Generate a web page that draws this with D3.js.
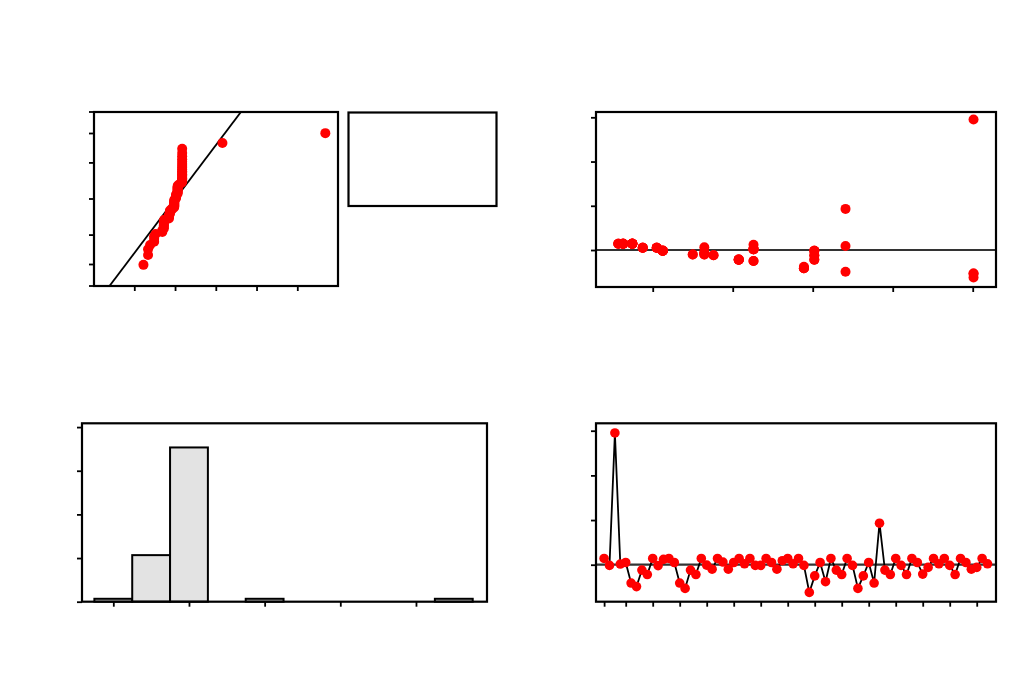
<!DOCTYPE html>
<html><head><meta charset="utf-8">
<script src="https://cdn.jsdelivr.net/npm/d3@7"></script>
<style>body{margin:0;background:#fff}svg{display:block}</style>
</head><body><svg id="c" width="1019" height="680"></svg>
<script>
// ---- data ----
const residuals = [0.14,-0.015,2.95,0.015,0.05,-0.41,-0.49,-0.12,-0.22,
  0.14,-0.02,0.12,0.14,0.05,-0.41,-0.53,-0.12,-0.22,
  0.14,-0.01,-0.10,0.14,0.06,-0.10,0.05,0.14,0.02,
  0.14,-0.015,-0.015,0.14,0.05,-0.10,0.09,0.14,0.02,
  0.14,-0.015,-0.62,-0.25,0.05,-0.38,0.14,-0.12,-0.22,
  0.14,-0.015,-0.53,-0.25,0.05,-0.41,0.93,-0.12,-0.22,
  0.14,-0.015,-0.22,0.14,0.05,-0.21,-0.06,0.14,0.02,
  0.14,-0.015,-0.22,0.14,0.05,-0.10,-0.06,0.14,0.02];
const fits = [0.745,1.125,5.01,2.26,1.05,2.89,3.41,1.76,2.075,
  0.745,1.125,2.26,0.745,1.05,2.89,5.01,1.76,2.075,
  0.745,1.125,1.645,0.745,1.645,1.645,1.05,0.745,2.26,
  0.745,1.125,1.125,0.745,1.05,1.5,3.41,0.745,2.26,
  0.63,1.125,5.01,2.26,0.875,2.89,0.63,3.02,3.02,
  0.63,3.02,5.01,2.26,0.875,2.89,3.41,3.02,3.02,
  0.63,3.02,2.075,0.63,0.875,2.075,1.645,0.63,2.26,
  0.57,3.02,2.075,0.57,0.875,1.5,1.645,0.57,2.26];
const probTicks = [0.1,1,10,50,90,99,99.9];
const residTicks = [-0.8,0,0.8,1.6,2.4];
const residYTicks = [0,1,2,3];
const fitTicks = [1,2,3,4,5];
const countTicks = [0,15,30,45,60];
const orderTicks = [1,5,10,15,20,25,30,35,40,45,50,55,60,65,70];
const binEdges = [-1.0,-0.6,-0.2,0.2,0.6,1.0,1.4,1.8,2.2,2.6,3.0];

// ---- helpers ----
function invNorm(p){
  const a=[-3.969683028665376e+01,2.209460984245205e+02,-2.759285104469687e+02,1.383577518672690e+02,-3.066479806614716e+01,2.506628277459239e+00];
  const b=[-5.447609879822406e+01,1.615858368580409e+02,-1.556989798598866e+02,6.680131188771972e+01,-1.328068155288572e+01];
  const c=[-7.784894002430293e-03,-3.223964580411365e-01,-2.400758277161838e+00,-2.549732539343734e+00,4.374664141464968e+00,2.938163982698783e+00];
  const d=[7.784695709041462e-03,3.224671290700398e-01,2.445134137142996e+00,3.754408661907416e+00];
  const pl=0.02425, ph=1-pl; let q,r;
  if(p<pl){q=Math.sqrt(-2*Math.log(p));return (((((c[0]*q+c[1])*q+c[2])*q+c[3])*q+c[4])*q+c[5])/((((d[0]*q+d[1])*q+d[2])*q+d[3])*q+1);}
  if(p>ph){q=Math.sqrt(-2*Math.log(1-p));return -(((((c[0]*q+c[1])*q+c[2])*q+c[3])*q+c[4])*q+c[5])/((((d[0]*q+d[1])*q+d[2])*q+d[3])*q+1);}
  q=p-0.5;r=q*q;return (((((a[0]*r+a[1])*r+a[2])*r+a[3])*r+a[4])*r+a[5])*q/(((((b[0]*r+b[1])*r+b[2])*r+b[3])*r+b[4])*r+1);
}
const svg = d3.select("#c");
svg.append("rect").attr("width",1019).attr("height",680).attr("fill","#fff");
const RED="#ff0000";
const FW=2.2;
function frame(x0,y0,x1,y1,id){
  svg.append("clipPath").attr("id",id).append("rect").attr("x",x0).attr("y",y0).attr("width",x1-x0).attr("height",y1-y0);
}
function drawFrame(x0,y0,x1,y1){
  svg.append("rect").attr("x",x0).attr("y",y0).attr("width",x1-x0).attr("height",y1-y0)
    .attr("fill","none").attr("stroke","#000").attr("stroke-width",FW);
}
function axes(xs,ys,xt,yt,x0,y1){
  const gx=svg.append("g").attr("transform",`translate(0,${y1})`)
    .call(d3.axisBottom(xs).tickValues(xt).tickSize(5).tickFormat(""));
  const gy=svg.append("g").attr("transform",`translate(${x0},0)`)
    .call(d3.axisLeft(ys).tickValues(yt).tickSize(5).tickFormat(""));
  [gx,gy].forEach(g=>{g.select(".domain").remove();g.selectAll("line").attr("stroke","#000").attr("stroke-width",1.8);});
}
const n = residuals.length;
const mean = d3.mean(residuals), sd = d3.deviation(residuals);

// ---- Panel 1: normal probability plot ----
{
  const x0=94,x1=338,y0=112,y1=286;
  const xs=d3.scaleLinear().domain([-1.591,3.199]).range([x0,x1]);
  const zs=d3.scaleLinear().domain([-3.09,3.09]).range([y1,y0]);
  const ys=p=>zs(invNorm(p/100));
  frame(x0,y0,x1,y1,"cp1");
  const sorted=residuals.slice().sort(d3.ascending);
  const pts=sorted.map((v,i)=>({v,z:invNorm((i+1-0.3)/(n+0.4))}));
  const g=svg.append("g").attr("clip-path","url(#cp1)");
  g.append("line").attr("x1",xs(mean+sd*-3.2)).attr("y1",zs(-3.2))
    .attr("x2",xs(mean+sd*3.2)).attr("y2",zs(3.2)).attr("stroke","#000").attr("stroke-width",1.8);
  g.selectAll("circle").data(pts).join("circle").attr("cx",d=>xs(d.v)).attr("cy",d=>zs(d.z))
    .attr("r",5).attr("fill",RED);
  axes(xs,d3.scaleLinear().domain([0,1]).range([0,1]),residTicks,[],x0,y1);
  const gy=svg.append("g");
  gy.selectAll("line").data(probTicks).join("line").attr("x1",x0-5).attr("x2",x0)
    .attr("y1",d=>ys(d)).attr("y2",d=>ys(d)).attr("stroke","#000").attr("stroke-width",1.8);
  drawFrame(x0,y0,x1,y1);
  // empty legend box
  svg.append("rect").attr("x",348.5).attr("y",112.5).attr("width",148).attr("height",93.5)
    .attr("fill","none").attr("stroke","#000").attr("stroke-width",FW);
}

// ---- Panel 2: residuals vs fits ----
{
  const x0=596,x1=996,y0=112,y1=287;
  const xs=d3.scaleLinear().domain([0.291,5.291]).range([x0,x1]);
  const ys=d3.scaleLinear().domain([-0.836,3.12]).range([y1,y0]);
  frame(x0,y0,x1,y1,"cp2");
  const g=svg.append("g").attr("clip-path","url(#cp2)");
  g.append("line").attr("x1",x0).attr("x2",x1).attr("y1",ys(0)).attr("y2",ys(0))
    .attr("stroke","#333").attr("stroke-width",2.2);
  g.selectAll("circle").data(residuals.map((r,i)=>({r,f:fits[i]}))).join("circle")
    .attr("cx",d=>xs(d.f)).attr("cy",d=>ys(d.r)).attr("r",5).attr("fill",RED);
  axes(xs,ys,fitTicks,residYTicks,x0,y1);
  drawFrame(x0,y0,x1,y1);
}

// ---- Panel 3: histogram ----
{
  const x0=82,x1=487,y0=423.3,y1=601.7;
  const xs=d3.scaleLinear().domain([-1.131,3.151]).range([x0,x1]);
  const ys=d3.scaleLinear().domain([0,61.3]).range([y1,y0]);
  const bins=d3.bin().domain([binEdges[0],binEdges[binEdges.length-1]])
    .thresholds(binEdges.slice(1,-1))(residuals);
  svg.append("g").selectAll("rect").data(bins).join("rect")
    .attr("x",d=>xs(d.x0)).attr("width",d=>xs(d.x1)-xs(d.x0))
    .attr("y",d=>ys(d.length)).attr("height",d=>ys(0)-ys(d.length))
    .attr("fill","#e3e3e3").attr("stroke","#000").attr("stroke-width",2);
  axes(xs,ys,residTicks,countTicks,x0,y1);
  drawFrame(x0,y0,x1,y1);
}

// ---- Panel 4: residuals vs order ----
{
  const x0=596,x1=996,y0=423.3,y1=601.7;
  const xs=d3.scaleLinear().domain([-0.5,73.57]).range([x0,x1]);
  const ys=d3.scaleLinear().domain([-0.828,3.166]).range([y1,y0]);
  frame(x0,y0,x1,y1,"cp4");
  const g=svg.append("g").attr("clip-path","url(#cp4)");
  g.append("line").attr("x1",x0).attr("x2",x1).attr("y1",ys(0)).attr("y2",ys(0))
    .attr("stroke","#333").attr("stroke-width",2.2);
  const pts=residuals.map((r,i)=>({o:i+1,r}));
  g.append("path").datum(pts).attr("d",d3.line().x(d=>xs(d.o)).y(d=>ys(d.r)))
    .attr("fill","none").attr("stroke","#000").attr("stroke-width",1.8);
  g.selectAll("circle").data(pts).join("circle").attr("cx",d=>xs(d.o)).attr("cy",d=>ys(d.r))
    .attr("r",4.8).attr("fill",RED);
  axes(xs,ys,orderTicks,residYTicks,x0,y1);
  drawFrame(x0,y0,x1,y1);
}
</script></body></html>
